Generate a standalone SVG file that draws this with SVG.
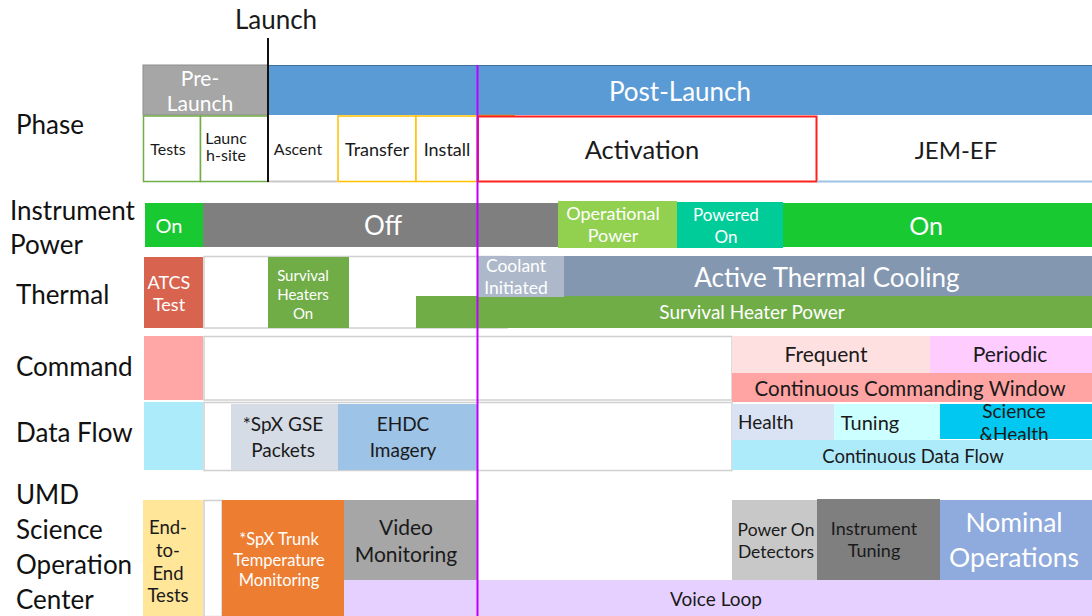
<svg xmlns="http://www.w3.org/2000/svg" width="1092" height="616" viewBox="0 0 1092 616">
<style>
text{font-family:Lato,"Open Sans","Liberation Sans",sans-serif;text-anchor:middle;fill:#1a1a1a}
.w{fill:#ffffff}
.lbl{text-anchor:start;font-size:26px;fill:#111}
.box{fill:#ffffff;stroke:#d0d0d0;stroke-width:1.5}
</style>
<rect width="1092" height="616" fill="#ffffff"/>

<g id="labels">
<text class="lbl" x="16" y="134">Phase</text>
<text class="lbl" x="10" y="220">Instrument</text>
<text class="lbl" x="10" y="254">Power</text>
<text class="lbl" x="16" y="304">Thermal</text>
<text class="lbl" x="16" y="376">Command</text>
<text class="lbl" x="16" y="442">Data Flow</text>
<text class="lbl" x="16" y="504">UMD</text>
<text class="lbl" x="16" y="539">Science</text>
<text class="lbl" x="16" y="574">Operation</text>
<text class="lbl" x="16" y="609">Center</text>
</g>

<g id="phase">
<rect x="143" y="65" width="125" height="50" fill="#a6a6a6" stroke="#8c8c8c" stroke-width="1"/>
<text class="w" x="200" y="86" font-size="21">Pre-</text>
<text class="w" x="200" y="111" font-size="21">Launch</text>
<rect x="268" y="65" width="824" height="50" fill="#5b9bd5"/>
<line x1="268" y1="65.5" x2="1092" y2="65.5" stroke="#41719c" stroke-width="1"/>
<text class="w" x="680" y="101" font-size="26">Post-Launch</text>
<rect x="143.5" y="116" width="57" height="65.5" fill="#fff" stroke="#70ad47" stroke-width="1.5"/>
<text x="168" y="155" font-size="16">Tests</text>
<rect x="200.5" y="116" width="67.5" height="65.5" fill="#fff" stroke="#70ad47" stroke-width="1.5"/>
<text x="226" y="144" font-size="16">Launc</text>
<text x="226" y="161" font-size="16">h-site</text>
<line x1="268" y1="181.5" x2="337" y2="181.5" stroke="#c8c8c8" stroke-width="2"/>
<text x="298" y="155" font-size="16">Ascent</text>
<rect x="338" y="116" width="78" height="65.5" fill="#fff" stroke="#ffc000" stroke-width="1.5"/>
<text x="377" y="156" font-size="18">Transfer</text>
<rect x="416" y="116" width="61" height="65.5" fill="#fff" stroke="#ffc000" stroke-width="1.5"/>
<text x="447" y="156" font-size="18">Install</text>
<line x1="477" y1="115.5" x2="515" y2="115.5" stroke="#d4a020" stroke-width="1.5"/>
<rect x="478" y="116.5" width="338.5" height="65" fill="#fff" stroke="#ff2020" stroke-width="2"/>
<text x="642" y="159" font-size="25.5">Activation</text>
<line x1="817" y1="181.5" x2="1092" y2="181.5" stroke="#9dc3e6" stroke-width="2"/>
<text x="956" y="159" font-size="24">JEM-EF</text>
</g>

<g id="launch">
<line x1="268" y1="38" x2="268" y2="182" stroke="#111" stroke-width="2"/>
<text x="276" y="29" font-size="26">Launch</text>
</g>

<g id="power">
<rect x="145" y="203" width="58" height="44" fill="#18c932"/>
<text class="w" x="169" y="233" font-size="20">On</text>
<rect x="203" y="203" width="355" height="44" fill="#7f7f7f"/>
<text class="w" x="383" y="235" font-size="26">Off</text>
<rect x="558" y="201" width="119" height="47" fill="#92d050"/>
<text class="w" x="613" y="220" font-size="18">Operational</text>
<text class="w" x="613" y="242" font-size="18">Power</text>
<rect x="677" y="202" width="106" height="46" fill="#00cc99"/>
<text class="w" x="726" y="221" font-size="17">Powered</text>
<text class="w" x="726" y="243" font-size="17">On</text>
<rect x="783" y="203" width="309" height="44" fill="#18c932"/>
<text class="w" x="926" y="235" font-size="25">On</text>
</g>

<g id="thermal">
<rect x="204" y="256.5" width="303" height="71.5" class="box"/>
<rect x="144" y="257" width="59" height="71" fill="#d86450"/>
<text class="w" x="169" y="289" font-size="18">ATCS</text>
<text class="w" x="169" y="311" font-size="18">Test</text>
<rect x="268" y="257" width="81" height="71" fill="#70ad47"/>
<text class="w" x="303" y="281" font-size="15">Survival</text>
<text class="w" x="303" y="300" font-size="15">Heaters</text>
<text class="w" x="303" y="319" font-size="15">On</text>
<rect x="416" y="296" width="676" height="32" fill="#70ad47"/>
<text class="w" x="752" y="319" font-size="19">Survival Heater Power</text>
<rect x="477" y="256" width="87" height="41" fill="#adb9ca"/>
<text class="w" x="516" y="272" font-size="17.5">Coolant</text>
<text class="w" x="516" y="294" font-size="17.5">Initiated</text>
<rect x="564" y="256" width="528" height="40" fill="#8497b0"/>
<text class="w" x="827" y="287" font-size="26">Active Thermal Cooling</text>
</g>

<g id="command">
<rect x="204" y="336.5" width="528" height="63.5" class="box"/>
<rect x="144" y="336" width="59" height="64" fill="#ffa7a7"/>
<rect x="732" y="336" width="198" height="37" fill="#ffe0e0"/>
<text x="826" y="362" font-size="21">Frequent</text>
<rect x="930" y="336" width="162" height="37" fill="#ffccff"/>
<text x="1010" y="362" font-size="21">Periodic</text>
<rect x="732" y="373" width="360" height="29" fill="#ffa3a3"/>
<text x="910" y="396" font-size="20.5" textLength="311" lengthAdjust="spacing">Continuous Commanding Window</text>
</g>

<g id="dataflow">
<rect x="204" y="402.5" width="528" height="68" class="box"/>
<rect x="144" y="402" width="59" height="68" fill="#abebfa"/>
<rect x="231" y="404" width="107" height="66" fill="#d6dce5"/>
<text x="283" y="431" font-size="19">*SpX GSE</text>
<text x="283" y="457" font-size="19">Packets</text>
<rect x="338" y="404" width="139" height="66" fill="#9dc3e6"/>
<text x="403" y="431" font-size="19">EHDC</text>
<text x="403" y="457" font-size="19">Imagery</text>
<rect x="732" y="404" width="102" height="36" fill="#dae3f3"/>
<text x="738" y="429" font-size="19" style="text-anchor:start">Health</text>
<rect x="834" y="404" width="106" height="36" fill="#ccffff"/>
<text x="870" y="430" font-size="20">Tuning</text>
<rect x="940" y="404" width="152" height="35" fill="#00c8f0"/>
<text x="1014" y="418" font-size="19">Science</text>
<text x="1014" y="441" font-size="19">&amp;Health</text>
<rect x="732" y="440" width="360" height="30" fill="#aeebfa"/>
<text x="913" y="463" font-size="18.5">Continuous Data Flow</text>
</g>

<g id="umd">
<rect x="143" y="500" width="60" height="116" fill="#ffe699"/>
<text x="168" y="534" font-size="18.5">End-</text>
<text x="168" y="557" font-size="18.5">to-</text>
<text x="168" y="580" font-size="18.5">End</text>
<text x="168" y="602" font-size="18.5">Tests</text>
<rect x="204" y="500.5" width="18" height="116" class="box"/>
<rect x="222" y="500" width="122" height="116" fill="#ed7d31"/>
<text class="w" x="279" y="545" font-size="16.5">*SpX Trunk</text>
<text class="w" x="279" y="566" font-size="16.5">Temperature</text>
<text class="w" x="279" y="586" font-size="16.5">Monitoring</text>
<rect x="344" y="500" width="133" height="80" fill="#a6a6a6"/>
<text x="406" y="535" font-size="21">Video</text>
<text x="406" y="562" font-size="21">Monitoring</text>
<rect x="344" y="580" width="748" height="36" fill="#e6d0ff"/>
<text x="716" y="606" font-size="19">Voice Loop</text>
<rect x="732" y="500" width="85" height="80" fill="#c8c8c8"/>
<text x="776" y="536" font-size="17.5">Power On</text>
<text x="776" y="558" font-size="17.5">Detectors</text>
<rect x="817" y="499" width="123" height="81" fill="#7f7f7f"/>
<text x="874" y="535" font-size="18">Instrument</text>
<text x="874" y="557" font-size="18">Tuning</text>
<rect x="940" y="500" width="152" height="80" fill="#8faadc"/>
<text class="w" x="1014" y="532" font-size="26.5">Nominal</text>
<text class="w" x="1014" y="567" font-size="26.5">Operations</text>
</g>

<g id="connectors">
<line x1="477.5" y1="65" x2="477.5" y2="616" stroke="#c000ff" stroke-width="2"/>
</g>
</svg>
